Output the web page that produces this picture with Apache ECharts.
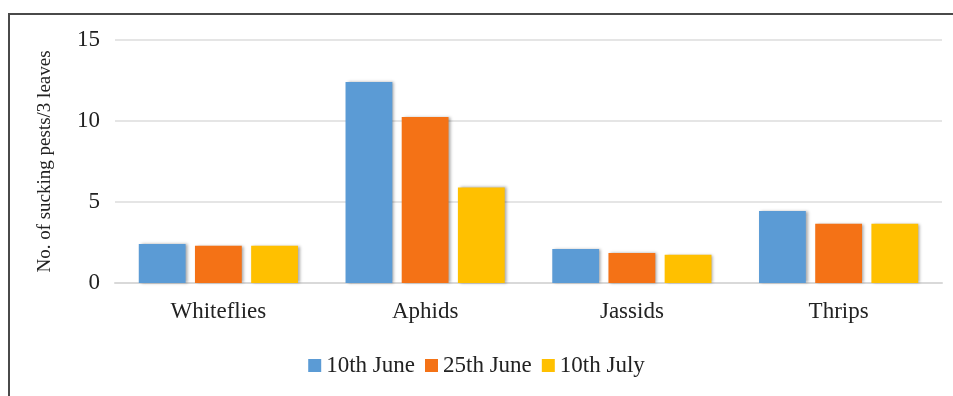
<!DOCTYPE html>
<html>
<head>
<meta charset="utf-8">
<script src="https://cdn.jsdelivr.net/npm/echarts@6/dist/echarts.min.js"></script>
<style>
  html, body { margin: 0; padding: 0; background: #fff; }
  #chart { width: 953px; height: 396px; }
</style>
</head>
<body>
<div id="chart"></div>
<script>
// data
const pests = ['Whiteflies', 'Aphids', 'Jassids', 'Thrips']
const june10 = [2.4, 12.4, 2.1, 4.45]
const june25 = [2.3, 10.25, 1.85, 3.65]
const july10 = [2.3, 5.9, 1.75, 3.65]
const seriesNames = ['10th June', '25th June', '10th July']
const colors = ['#5B9BD5', '#F47216', '#FFC000']

const font = '"Liberation Serif", "Times New Roman", serif'
const chart = echarts.init(document.getElementById('chart'))

const barStyle = (c) => ({
  color: c,
  shadowColor: 'rgba(0,0,0,0.35)',
  shadowBlur: 3,
  shadowOffsetX: 2,
  shadowOffsetY: 0
})

const option = {
  animation: false,
  backgroundColor: '#fff',
  color: colors,
  textStyle: { fontFamily: font, color: '#222' },
  grid: { left: 115, right: 11, top: 40, bottom: 113 },
  graphic: [{
    type: 'polyline',
    shape: { points: [[9, 396], [9, 14], [953, 14]] },
    style: { stroke: '#4a4a4a', lineWidth: 2, fill: null }
  }],
  legend: {
    data: seriesNames,
    bottom: 14,
    left: 'center',
    icon: 'rect',
    itemWidth: 13,
    itemHeight: 13,
    itemGap: 10,
    textStyle: { fontFamily: font, fontSize: 23, color: '#222' }
  },
  xAxis: {
    type: 'category',
    data: pests,
    axisTick: { show: false },
    axisLine: { lineStyle: { color: '#d9d9d9', width: 2 } },
    axisLabel: { fontFamily: font, fontSize: 23, color: '#222', margin: 17 }
  },
  yAxis: {
    type: 'value',
    min: 0,
    max: 15,
    interval: 5,
    name: 'No. of sucking pests/3 leaves',
    nameLocation: 'middle',
    nameGap: 60,
    nameTextStyle: { fontFamily: font, fontSize: 19, color: '#222' },
    axisLine: { show: false },
    axisTick: { show: false },
    axisLabel: { fontFamily: font, fontSize: 23, color: '#222', margin: 15 },
    splitLine: { lineStyle: { color: '#dcdcdc', width: 1.5 } }
  },
  series: [
    { name: seriesNames[0], type: 'bar', data: june10, barGap: '20%', barCategoryGap: '23%', itemStyle: barStyle(colors[0]) },
    { name: seriesNames[1], type: 'bar', data: june25, itemStyle: barStyle(colors[1]) },
    { name: seriesNames[2], type: 'bar', data: july10, itemStyle: barStyle(colors[2]) }
  ]
}

chart.setOption(option)
</script>
</body>
</html>
